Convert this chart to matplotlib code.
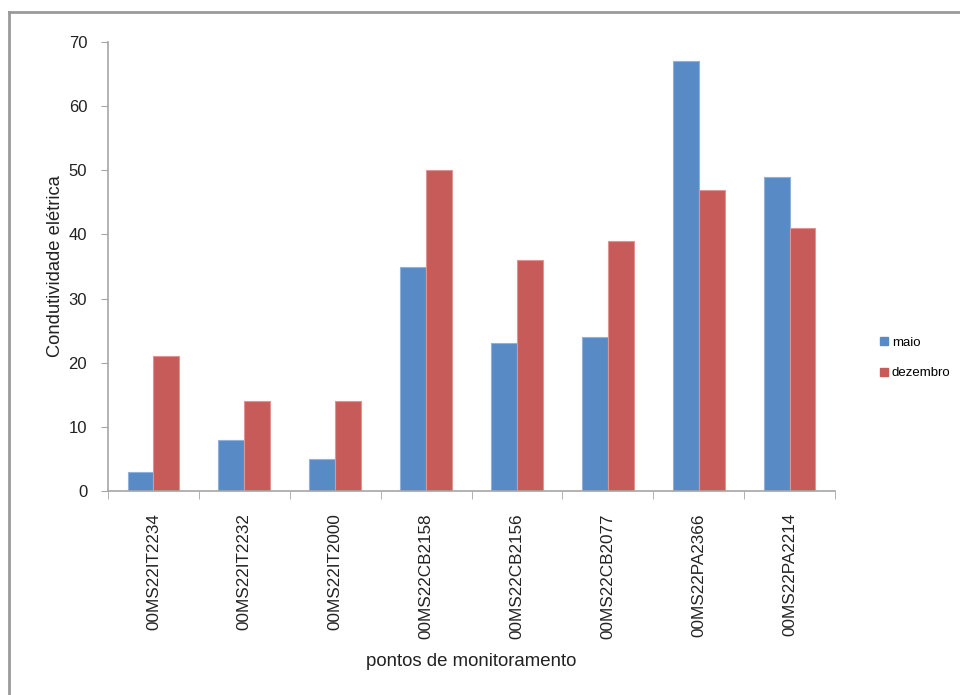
import matplotlib.pyplot as plt
from matplotlib.lines import Line2D
import numpy as np

plt.rcParams['font.family'] = ['Liberation Sans', 'DejaVu Sans']

pontos = ['00MS22IT2234', '00MS22IT2232', '00MS22IT2000', '00MS22CB2158',
          '00MS22CB2156', '00MS22CB2077', '00MS22PA2366', '00MS22PA2214']
maio = [3, 8, 5, 35, 23, 24, 67, 49]
dezembro = [21, 14, 14, 50, 36, 39, 47, 41]

azul = '#588AC5'
vermelho = '#C75B59'
cinza = '#A6A6A6'

fig = plt.figure(figsize=(9.6, 6.95), dpi=100)
ax = fig.add_axes([108/960, 1-491/695, (835-108)/960, (491-42)/695])

x = np.arange(len(pontos))
w = 0.285
ax.bar(x - w/2, maio, w, color=azul, edgecolor='#8FB1DC', linewidth=0.8, label='maio')
ax.bar(x + w/2, dezembro, w, color=vermelho, edgecolor='#E09492', linewidth=0.8, label='dezembro')

ax.set_xlim(-0.5, len(pontos) - 0.5)
ax.set_ylim(0, 70)
ax.set_yticks(range(0, 71, 10))
ax.set_xticks(x)
ax.set_xticklabels(pontos, rotation=90, fontsize=12.3, color='#222222')
ax.set_xticks(np.arange(-0.5, len(pontos), 1), minor=True)
ax.tick_params(axis='x', which='major', length=0, pad=16)
ax.tick_params(axis='x', which='minor', length=6, color=cinza, direction='out')
ax.tick_params(axis='y', length=5, color=cinza, labelsize=12, labelcolor='#222222', pad=10)

for s in ['top', 'right']:
    ax.spines[s].set_visible(False)
for s in ['left', 'bottom']:
    ax.spines[s].set_color(cinza)
    ax.spines[s].set_linewidth(1.2)

ax.set_ylabel('Condutividade elétrica', fontsize=13.2, color='#222222', labelpad=3)
ax.set_xlabel('pontos de monitoramento', fontsize=13.4, color='#222222', labelpad=10)

handles = [Line2D([], [], marker='s', linestyle='', markersize=6, color=azul),
           Line2D([], [], marker='s', linestyle='', markersize=6, color=vermelho)]
fig.legend(handles, ['maio', 'dezembro'], loc='center left', bbox_to_anchor=(868/960, 1-358/695),
           frameon=False, fontsize=9.5, handlelength=0.6, handletextpad=0.3, labelspacing=1.4)

# moldura da área do gráfico
fig.add_artist(Line2D([9/960, 9/960], [0, 1-12/695], color='#9A9A9A', linewidth=2))
fig.add_artist(Line2D([9/960, 1], [1-12/695, 1-12/695], color='#9A9A9A', linewidth=2))

fig.savefig('out.png', dpi=100)
